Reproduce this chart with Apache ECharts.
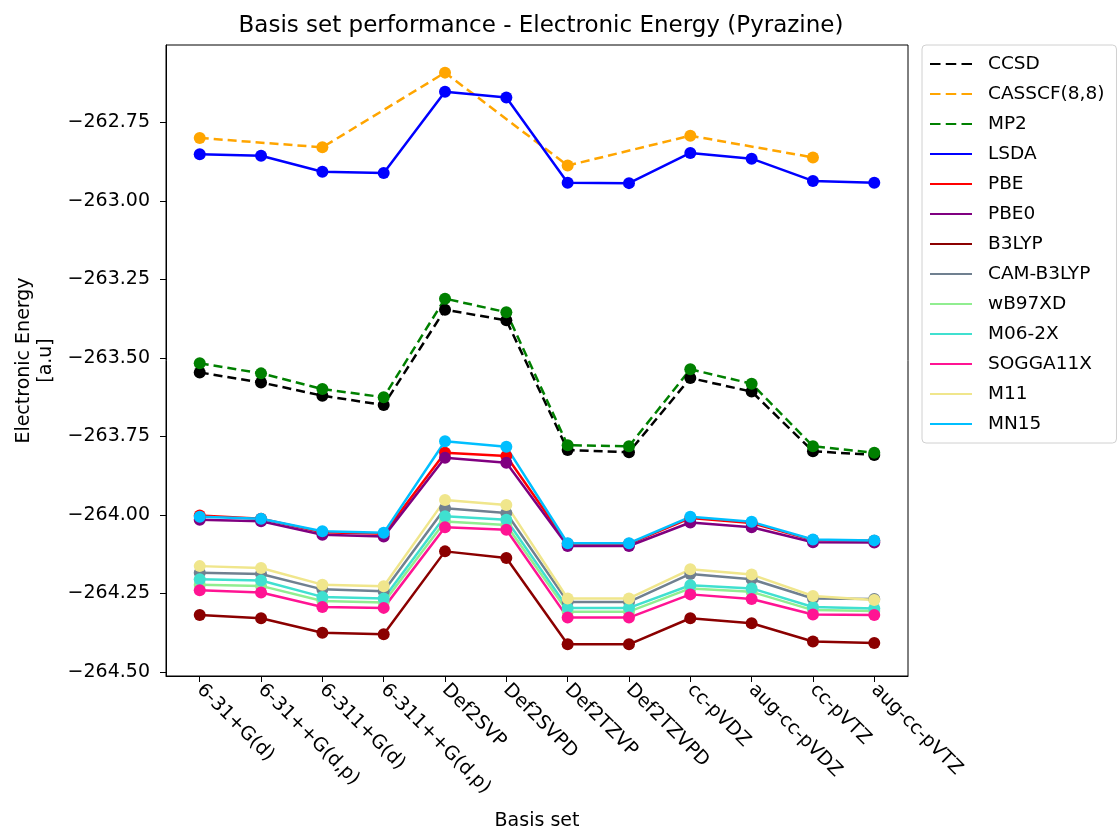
<!DOCTYPE html>
<html>
<head>
<meta charset="utf-8">
<script src="https://cdn.jsdelivr.net/npm/echarts@6/dist/echarts.min.js"></script>
<style>
  html, body { margin: 0; padding: 0; background: #fff; }
  #chart { width: 1119px; height: 836px; }
</style>
</head>
<body>
<div id="chart"></div>
<script>
// basis sets on the x axis
var basisSets = ['6-31+G(d)', '6-31++G(d,p)', '6-311+G(d)', '6-311++G(d,p)', 'Def2SVP', 'Def2SVPD',
                 'Def2TZVP', 'Def2TZVPD', 'cc-pVDZ', 'aug-cc-pVDZ', 'cc-pVTZ', 'aug-cc-pVTZ'];
var yTicks = [-264.5, -264.25, -264.0, -263.75, -263.5, -263.25, -263.0, -262.75];

// electronic energies [a.u]
var ccsd   = [-263.546, -263.578, -263.620, -263.650, -263.346, -263.380, -263.793, -263.800, -263.564, -263.607, -263.797, -263.809];
var casscf = [-262.799, null, -262.829, null, -262.591, null, -262.887, null, -262.792, null, -262.861, null];
var mp2    = [-263.517, -263.549, -263.599, -263.625, -263.311, -263.354, -263.778, -263.781, -263.536, -263.582, -263.781, -263.802];
var lsda   = [-262.851, -262.856, -262.907, -262.911, -262.652, -262.670, -262.942, -262.943, -262.847, -262.865, -262.936, -262.942];
var pbe    = [-264.002, -264.012, -264.055, -264.060, -263.802, -263.812, -264.092, -264.092, -264.010, -264.026, -264.080, -264.082];
var pbe0   = [-264.015, -264.020, -264.063, -264.069, -263.818, -263.834, -264.099, -264.099, -264.024, -264.039, -264.087, -264.088];
var b3lyp  = [-264.319, -264.329, -264.375, -264.380, -264.116, -264.137, -264.412, -264.412, -264.329, -264.345, -264.403, -264.408];
var camb3lyp = [-264.184, -264.188, -264.237, -264.243, -263.979, -263.994, -264.277, -264.277, -264.188, -264.205, -264.266, -264.268];
var wb97xd = [-264.222, -264.226, -264.274, -264.279, -264.021, -264.032, -264.308, -264.308, -264.234, -264.245, -264.303, -264.306];
var m062x  = [-264.205, -264.209, -264.261, -264.266, -264.004, -264.015, -264.296, -264.296, -264.224, -264.234, -264.293, -264.298];
var sogga11x = [-264.240, -264.247, -264.293, -264.296, -264.039, -264.047, -264.327, -264.327, -264.253, -264.268, -264.317, -264.319];
var m11    = [-264.163, -264.169, -264.222, -264.227, -263.952, -263.968, -264.266, -264.266, -264.173, -264.190, -264.258, -264.271];
var mn15   = [-264.006, -264.012, -264.052, -264.057, -263.765, -263.783, -264.090, -264.090, -264.006, -264.022, -264.078, -264.081];

var methods = [
    {name: 'CCSD', data: ccsd, color: '#000000', dashed: true},
    {name: 'CASSCF(8,8)', data: casscf, color: '#FFA500', dashed: true},
    {name: 'MP2', data: mp2, color: '#008000', dashed: true},
    {name: 'LSDA', data: lsda, color: '#0000FF'},
    {name: 'PBE', data: pbe, color: '#FF0000'},
    {name: 'PBE0', data: pbe0, color: '#800080'},
    {name: 'B3LYP', data: b3lyp, color: '#8B0000'},
    {name: 'CAM-B3LYP', data: camb3lyp, color: '#708090'},
    {name: 'wB97XD', data: wb97xd, color: '#90EE90'},
    {name: 'M06-2X', data: m062x, color: '#40E0D0'},
    {name: 'SOGGA11X', data: sogga11x, color: '#FF1493'},
    {name: 'M11', data: m11, color: '#F0E68C'},
    {name: 'MN15', data: mn15, color: '#00BFFF'}
];

var font = 'DejaVu Sans';
var dashIcon = 'path://M0,0h10v2h-10z M15,0h10v2h-10z M30,0h10v2h-10z';
var lineIcon = 'path://M0,0h40v2h-40z';
var tickPos = basisSets.map(function (b, i) { return i; });

var series = methods.map(function (m) {
    var pts = [];
    m.data.forEach(function (v, i) {
        if (v !== null) pts.push([i, v]);
    });
    return {
        name: m.name,
        type: 'line',
        data: pts,
        symbol: 'circle',
        symbolSize: 12,
        color: m.color,
        lineStyle: {width: 2.5, type: m.dashed ? [9, 5] : 'solid', color: m.color},
        itemStyle: {color: m.color},
        emphasis: {disabled: true}
    };
});

var myChart = echarts.init(document.getElementById('chart'));
var option = {
    animation: false,
    title: {
        text: 'Basis set performance - Electronic Energy (Pyrazine)',
        left: 536, textAlign: 'center', top: 10,
        textStyle: {fontFamily: font, fontSize: 23, fontWeight: 'normal', color: '#000'}
    },
    legend: {
        orient: 'vertical',
        left: 922, top: 45,
        padding: [8, 12, 8, 8],
        itemWidth: 42, itemHeight: 3,
        itemGap: 8,
        backgroundColor: '#fff',
        borderColor: '#d0d0d0', borderWidth: 1, borderRadius: 4,
        textStyle: {fontFamily: font, fontSize: 18.5, color: '#000', lineHeight: 22, padding: [0, 0, 0, 11]},
        data: methods.map(function (m) {
            return {name: m.name, icon: m.dashed ? dashIcon : lineIcon, itemStyle: {color: m.color}};
        })
    },
    grid: {
        left: 166, top: 45, width: 742, height: 634,
        show: true, borderColor: '#000', borderWidth: 1, containLabel: false
    },
    xAxis: {
        type: 'value',
        min: -0.55, max: 11.55,
        name: 'Basis set', nameLocation: 'middle', nameGap: 136,
        nameTextStyle: {fontFamily: font, fontSize: 19, color: '#000'},
        axisLine: {show: true, onZero: false, lineStyle: {color: '#000'}},
        axisTick: {show: true, length: 6, customValues: tickPos, lineStyle: {color: '#000'}},
        splitLine: {show: false},
        axisLabel: {
            customValues: tickPos,
            rotate: -45, margin: 11,
            fontFamily: font, fontSize: 19, color: '#000',
            formatter: function (v) { return basisSets[Math.round(v)]; }
        }
    },
    yAxis: {
        type: 'value',
        min: -264.513, max: -262.503,
        name: 'Electronic Energy\n[a.u]', nameLocation: 'middle', nameGap: 104, nameRotate: 90,
        nameTextStyle: {fontFamily: font, fontSize: 19, color: '#000', lineHeight: 22},
        axisLine: {show: true, onZero: false, lineStyle: {color: '#000'}},
        axisTick: {show: true, length: 6, customValues: yTicks, lineStyle: {color: '#000'}},
        splitLine: {show: false},
        axisLabel: {
            customValues: yTicks,
            margin: 16,
            fontFamily: font, fontSize: 19, color: '#000',
            formatter: function (v) { return '\u2212' + Math.abs(v).toFixed(2); }
        }
    },
    series: series
};
myChart.setOption(option);
</script>
</body>
</html>
